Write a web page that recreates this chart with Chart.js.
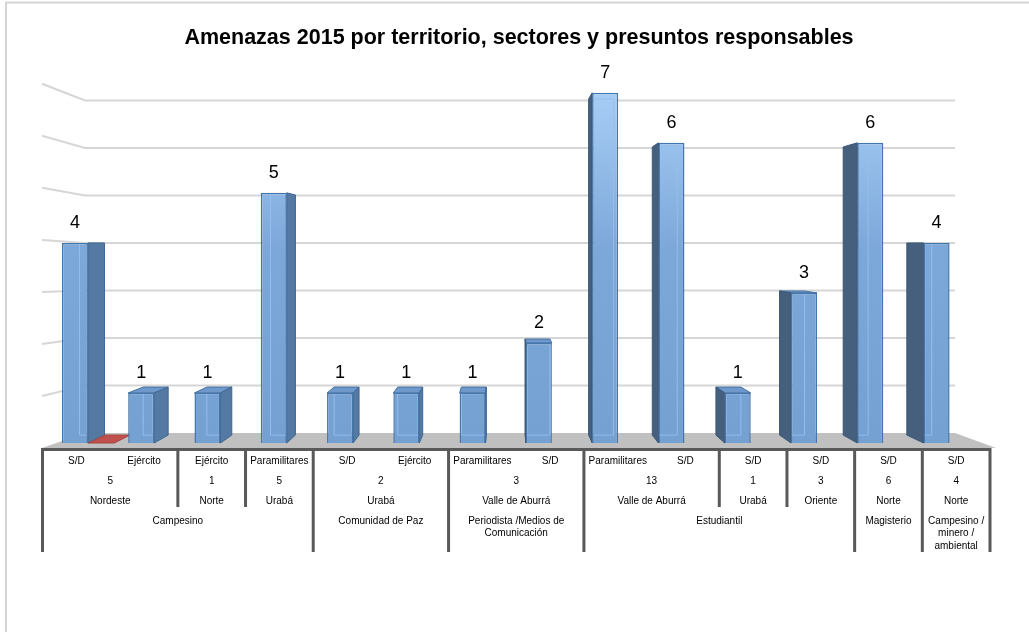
<!DOCTYPE html>
<html>
<head>
<meta charset="utf-8">
<script src="https://cdn.jsdelivr.net/npm/chart.js@4.4.0/dist/chart.umd.min.js"></script>
<style>
  html, body { margin: 0; padding: 0; background: #fff; }
  canvas { display: block; }
</style>
</head>
<body>
<canvas id="grafico" width="1029" height="632"></canvas>
<script>
// Niveles del eje de categorías, de arriba hacia abajo en la tabla
const responsables = ['S/D', 'Ejército', 'Ejército', 'Paramilitares', 'S/D', 'Ejército', 'Paramilitares',
                      'S/D', 'Paramilitares', 'S/D', 'S/D', 'S/D', 'S/D', 'S/D'];
const amenazas = [4, 1, 1, 5, 1, 1, 1, 2, 7, 6, 1, 3, 6, 4];
const serie2 = [0, null, null, null, null, null, null, null, null, null, null, null, null, null];

// grupos: [texto, cuántas categorías abarca]
const totales = [['5', 2], ['1', 1], ['5', 1], ['2', 2], ['3', 2], ['13', 2], ['1', 1], ['3', 1], ['6', 1], ['4', 1]];
const territorios = [['Nordeste', 2], ['Norte', 1], ['Urabá', 1], ['Urabá', 2], ['Valle de Aburrá', 2],
                     ['Valle de Aburrá', 2], ['Urabá', 1], ['Oriente', 1], ['Norte', 1], ['Norte', 1]];
const sectores = [[['Campesino'], 4], [['Comunidad de Paz'], 2], [['Periodista /Medios de', 'Comunicación'], 2],
                  [['Estudiantil'], 4], [['Magisterio'], 1], [['Campesino /', 'minero /', 'ambiental'], 1]];

const FUENTE = '"Liberation Sans", Arial, sans-serif';

// punto de fuga de las columnas en 3D
const VISTA = { x: 504, y: 245, k: 0.04 };
const PARED_K = 0.0505;
const fondo = (x, y) => ({ x: x + VISTA.k * (VISTA.x - x), y: y + VISTA.k * (VISTA.y - y) });

const SUELO = { izq: 42, der: 996, fondoIzq: 85, fondoDer: 955, frente: 448 };
const TABLA = { izq: 42.5, der: 990, eje: 449.5, filas: [461, 481, 501, 521], corteMedio: 507, corteFinal: 552 };

function poligono(ctx, pts, relleno, borde) {
  ctx.beginPath();
  pts.forEach((p, i) => i ? ctx.lineTo(p.x, p.y) : ctx.moveTo(p.x, p.y));
  ctx.closePath();
  ctx.fillStyle = relleno;
  ctx.fill();
  if (borde) { ctx.strokeStyle = borde; ctx.lineWidth = 1; ctx.stroke(); }
}

const escena3d = {
  id: 'escena3d',
  beforeDraw(chart) {
    const ctx = chart.ctx;
    ctx.save();
    ctx.strokeStyle = '#d4d4d4';
    ctx.lineWidth = 2;
    ctx.strokeRect(6, 2.5, 1200, 800);
    ctx.restore();
  },
  beforeDatasetsDraw(chart) {
    const ctx = chart.ctx;
    const ys = chart.scales.y;
    const base = ys.getPixelForValue(0);
    const pared = f => f + PARED_K * (VISTA.y - f);
    const lateral = f => SUELO.frente + (f - base) * 1.04;
    ctx.save();

    // líneas de división en la pared del fondo y la lateral
    ctx.strokeStyle = '#d6d6d6';
    ctx.lineWidth = 2;
    for (let v = ys.min + 1; v <= ys.max; v++) {
      const f = ys.getPixelForValue(v);
      ctx.beginPath();
      ctx.moveTo(SUELO.izq, lateral(f));
      ctx.lineTo(SUELO.fondoIzq, pared(f));
      ctx.lineTo(SUELO.fondoDer, pared(f));
      ctx.stroke();
    }

    // suelo
    poligono(ctx, [
      { x: SUELO.izq, y: SUELO.frente }, { x: SUELO.fondoIzq, y: pared(base) },
      { x: SUELO.fondoDer, y: pared(base) }, { x: SUELO.der, y: SUELO.frente }
    ], '#c0c0c0');

    // columnas: caras superior y lateral
    chart.getDatasetMeta(0).data.forEach(bar => {
      const x0 = bar.x - bar.width / 2, x1 = bar.x + bar.width / 2, yt = bar.y, yb = bar.base;
      const A = fondo(x0, yt), B = fondo(x1, yt), C = fondo(x1, yb), D = fondo(x0, yb);
      if (B.y < yt - 0.5) {
        poligono(ctx, [{ x: x0, y: yt }, { x: x1, y: yt }, B, A], '#6f99cc', '#41709f');
      }
      if (B.x > x1 + 0.5) {
        poligono(ctx, [{ x: x1, y: yt }, B, C, { x: x1, y: yb }], '#5479a3', '#3d6896');
      } else if (A.x < x0 - 0.5) {
        poligono(ctx, [{ x: x0, y: yt }, A, D, { x: x0, y: yb }], '#455f7d', '#3a5878');
      }
    });

    // serie sin valor: sólo la cara superior sobre el suelo
    chart.getDatasetMeta(1).data.forEach((bar, i) => {
      if (serie2[i] === null) return;
      const x0 = bar.x - bar.width / 2, x1 = bar.x + bar.width / 2, yt = bar.y;
      poligono(ctx, [{ x: x0, y: yt }, { x: x1, y: yt }, fondo(x1, yt), fondo(x0, yt)], '#c0504d', '#a9433f');
    });
    ctx.restore();
  },
  afterDatasetsDraw(chart) {
    const ctx = chart.ctx;
    ctx.save();

    // aristas traseras vistas a través de la cara frontal
    chart.getDatasetMeta(0).data.forEach(bar => {
      const x0 = bar.x - bar.width / 2, x1 = bar.x + bar.width / 2, yt = bar.y, yb = bar.base;
      const A = fondo(x0, yt), B = fondo(x1, yt), C = fondo(x1, yb), D = fondo(x0, yb);
      ctx.save();
      ctx.beginPath();
      ctx.rect(x0 + 1, yt + 1, x1 - x0 - 2, yb - yt - 2);
      ctx.clip();
      ctx.strokeStyle = 'rgba(150, 192, 238, 0.9)';
      ctx.lineWidth = 1;
      ctx.beginPath();
      ctx.moveTo(A.x, A.y); ctx.lineTo(B.x, B.y); ctx.lineTo(C.x, C.y); ctx.lineTo(D.x, D.y); ctx.closePath();
      ctx.stroke();
      ctx.restore();
    });

    // valores sobre las columnas
    ctx.fillStyle = '#000';
    ctx.font = '18px ' + FUENTE;
    ctx.textAlign = 'center';
    ctx.textBaseline = 'middle';
    chart.getDatasetMeta(0).data.forEach((bar, i) => {
      ctx.fillText(String(amenazas[i]), bar.x, bar.y - 20);
    });

    // tabla de categorías en varios niveles
    const n = responsables.length;
    const col = i => TABLA.izq + i * (TABLA.der - TABLA.izq) / n;
    ctx.font = '10px ' + FUENTE;
    responsables.forEach((t, i) => ctx.fillText(t, col(i + 0.5), TABLA.filas[0]));

    const cortes = new Map();
    const fila = (grupos, y, alto) => {
      let i = 0;
      grupos.forEach(([t, c]) => {
        const lineas = Array.isArray(t) ? t : [t];
        lineas.forEach((l, k) => ctx.fillText(l, col(i + c / 2), y + k * 12.5));
        i += c;
        cortes.set(i, Math.max(cortes.get(i) || 0, alto));
      });
    };
    fila(totales, TABLA.filas[1], TABLA.corteMedio);
    fila(territorios, TABLA.filas[2], TABLA.corteMedio);
    fila(sectores, TABLA.filas[3], TABLA.corteFinal);
    cortes.set(0, TABLA.corteFinal);

    ctx.strokeStyle = '#595959';
    ctx.lineWidth = 3;
    ctx.beginPath();
    ctx.moveTo(TABLA.izq - 1.5, TABLA.eje);
    ctx.lineTo(TABLA.der + 1.5, TABLA.eje);
    cortes.forEach((fin, i) => {
      ctx.moveTo(col(i), TABLA.eje);
      ctx.lineTo(col(i), fin);
    });
    ctx.stroke();
    ctx.restore();
  }
};

const ctx = document.getElementById('grafico');
new Chart(ctx, {
  type: 'bar',
  data: {
    labels: responsables,
    datasets: [{
      label: 'Amenazas',
      data: amenazas,
      backgroundColor: (c) => {
        const area = c.chart.chartArea;
        if (!area) return '#7aa5d8';
        const g = c.chart.ctx.createLinearGradient(0, area.top, 0, area.bottom);
        g.addColorStop(0, '#a6cdf5');
        g.addColorStop(0.45, '#7ca7d9');
        g.addColorStop(1, '#75a0d2');
        return g;
      },
      borderColor: '#4475ab',
      borderWidth: 1.5,
      barPercentage: 0.98,
      categoryPercentage: 0.8
    }, {
      label: 'Serie 2',
      data: serie2,
      backgroundColor: '#c0504d',
      borderWidth: 0,
      barPercentage: 0.98,
      categoryPercentage: 0.8
    }]
  },
  options: {
    responsive: false,
    animation: false,
    layout: {
      padding: { left: 55, right: 46, top: 0, bottom: 189 }
    },
    plugins: {
      legend: { display: false },
      tooltip: { enabled: false },
      title: {
        display: true,
        text: 'Amenazas 2015 por territorio, sectores y presuntos responsables',
        color: '#000',
        font: { family: FUENTE, size: 21.5, weight: 'bold' },
        padding: { top: 25, bottom: 42 }
      }
    },
    scales: {
      x: {
        display: false,
        grid: { display: false }
      },
      y: {
        display: false,
        min: 0,
        max: 7,
        grid: { display: false }
      }
    }
  },
  plugins: [escena3d]
});
</script>
</body>
</html>
